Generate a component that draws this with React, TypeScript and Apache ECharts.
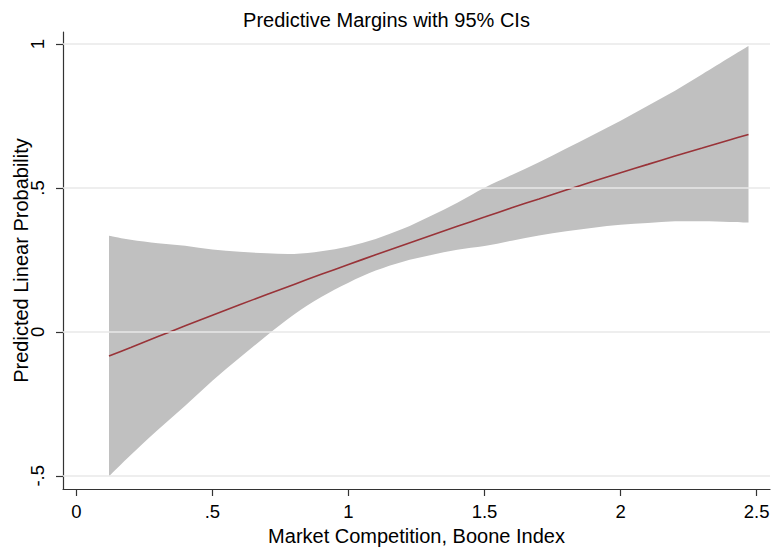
import React, { useEffect, useRef } from "react";
import * as echarts from "echarts";

const xValues = [0.12, 0.2, 0.3, 0.4, 0.5, 0.6, 0.7, 0.8, 0.9, 1.0, 1.1, 1.2, 1.3, 1.4, 1.5, 1.6, 1.7, 1.8, 1.9, 2.0, 2.1, 2.2, 2.3, 2.4, 2.47];
const margin = [-0.084, -0.054, -0.016, 0.021, 0.058, 0.094, 0.13, 0.165, 0.2, 0.234, 0.268, 0.301, 0.334, 0.367, 0.399, 0.431, 0.462, 0.493, 0.523, 0.553, 0.582, 0.611, 0.639, 0.667, 0.686];
const ciUpper = [0.334, 0.32, 0.308, 0.299, 0.286, 0.278, 0.273, 0.271, 0.28, 0.297, 0.323, 0.358, 0.402, 0.449, 0.501, 0.545, 0.589, 0.637, 0.685, 0.734, 0.786, 0.838, 0.895, 0.953, 0.993];
const ciLower = [-0.502, -0.428, -0.34, -0.257, -0.17, -0.09, -0.013, 0.06, 0.121, 0.171, 0.213, 0.244, 0.266, 0.285, 0.298, 0.317, 0.335, 0.35, 0.362, 0.372, 0.378, 0.384, 0.384, 0.382, 0.38];
const xTicks = [0, 0.5, 1, 1.5, 2, 2.5];
const yTicks = [-0.5, 0, 0.5, 1];

const FONT = "'Liberation Sans', Arial, Helvetica, sans-serif";
const fmt = (v: number) => String(v).replace(/^(-?)0\./, "$1.");

// Catmull-Rom spline through screen points -> SVG cubic segments
function splineSegments(pts: number[][]): string {
  let d = "";
  const n = pts.length;
  for (let i = 0; i < n - 1; i++) {
    const p0 = pts[Math.max(i - 1, 0)];
    const p1 = pts[i];
    const p2 = pts[i + 1];
    const p3 = pts[Math.min(i + 2, n - 1)];
    const c1x = p1[0] + (p2[0] - p0[0]) / 6;
    const c1y = p1[1] + (p2[1] - p0[1]) / 6;
    const c2x = p2[0] - (p3[0] - p1[0]) / 6;
    const c2y = p2[1] - (p3[1] - p1[1]) / 6;
    d += ` C ${c1x} ${c1y} ${c2x} ${c2y} ${p2[0]} ${p2[1]}`;
  }
  return d;
}

export default function App() {
  const ref = useRef<HTMLDivElement>(null);
  useEffect(() => {
    if (!ref.current) return;
    const chart = echarts.init(ref.current, undefined, { renderer: "svg" });
    const bandData = xValues.map((x, i) => [x, ciLower[i], ciUpper[i]]);
    const lineData = xValues.map((x, i) => [x, margin[i]]);
    chart.setOption({
      animation: false,
      backgroundColor: "#ffffff",
      title: {
        text: "Predictive Margins with 95% CIs",
        left: "center",
        top: 5,
        textStyle: { fontFamily: FONT, fontSize: 20, fontWeight: "normal", color: "#000" },
      },
      grid: { left: 63, right: 3, top: 32, bottom: 60, containLabel: false, outerBoundsMode: "none" },
      xAxis: {
        type: "value",
        min: -0.049,
        max: 2.549,
        name: "Market Competition, Boone Index",
        nameLocation: "middle",
        nameGap: 37,
        nameMoveOverlap: false,
        nameTextStyle: { fontFamily: FONT, fontSize: 20, color: "#000" },
        axisLine: { show: true, onZero: false, lineStyle: { color: "#333", width: 1.2 } },
        axisTick: { show: true, customValues: xTicks, length: 7, lineStyle: { color: "#333", width: 1.2 } },
        axisLabel: { customValues: xTicks, formatter: fmt, fontFamily: FONT, fontSize: 18.5, color: "#000", margin: 13 },
        splitLine: { show: false },
      },
      yAxis: {
        type: "value",
        min: -0.546,
        max: 1.042,
        name: "Predicted Linear Probability",
        nameLocation: "middle",
        nameGap: 32,
        nameMoveOverlap: false,
        nameTextStyle: { fontFamily: FONT, fontSize: 20, color: "#000" },
        axisLine: { show: true, onZero: false, lineStyle: { color: "#333", width: 1.2 } },
        axisTick: { show: true, customValues: yTicks, length: 7, lineStyle: { color: "#333", width: 1.2 } },
        axisLabel: { customValues: yTicks, formatter: fmt, rotate: 90, fontFamily: FONT, fontSize: 18.5, color: "#000", margin: 16 },
        splitLine: { show: false },
      },
      series: [
        {
          name: "grid",
          type: "line",
          data: lineData,
          symbol: "none",
          silent: true,
          z: 1,
          lineStyle: { opacity: 0 },
          markLine: {
            silent: true,
            symbol: "none",
            label: { show: false },
            lineStyle: { color: "#e8e8e8", width: 1.5, type: "solid" },
            data: yTicks.map((v) => ({ yAxis: v })),
          },
        },
        {
          name: "ci",
          type: "custom",
          data: bandData,
          silent: true,
          z: 2,
          renderItem: (params: any, api: any) => {
            if (params.dataIndex !== 0) return null;
            const top = xValues.map((x, i) => api.coord([x, ciUpper[i]]));
            const bottom = xValues.map((x, i) => api.coord([x, ciLower[i]])).reverse();
            const d =
              `M ${top[0][0]} ${top[0][1]}` +
              splineSegments(top) +
              ` L ${bottom[0][0]} ${bottom[0][1]}` +
              splineSegments(bottom) +
              " Z";
            return {
              type: "path",
              shape: { pathData: d },
              style: { fill: "#c0c0c0", stroke: "none" },
            };
          },
        },
        {
          name: "margin",
          type: "line",
          data: lineData,
          smooth: 0.3,
          symbol: "none",
          z: 3,
          lineStyle: { color: "#993338", width: 1.6 },
        },
      ],
    });
    return () => chart.dispose();
  }, []);
  return <div ref={ref} style={{ width: 773, height: 549, position: "absolute", left: 0, top: 0 }} />;
}
